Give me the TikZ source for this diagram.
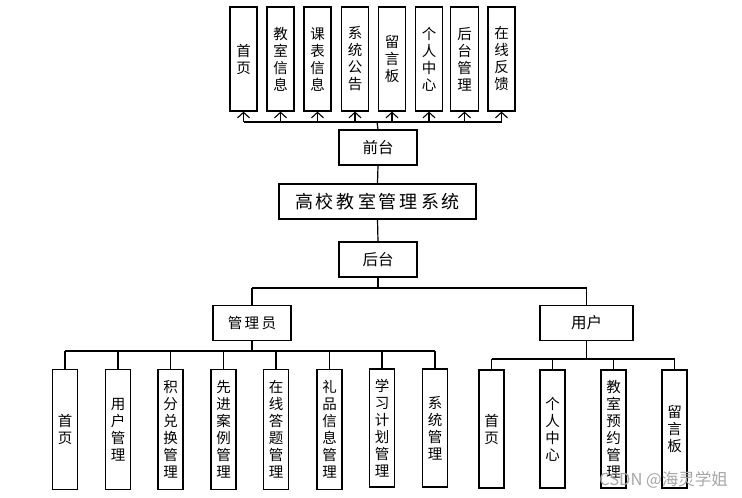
\documentclass[tikz,border=0pt]{standalone}
\usepackage{fontspec}
\setmainfont{Noto Sans CJK SC}
\usetikzlibrary{arrows.meta}
\tikzset{
  box/.style={draw=black, line width=1.2pt, fill=white, inner sep=0pt, align=center},
  vbox/.style={box, minimum width=25pt, font=\fontsize{14.5}{17}\selectfont},
  tbox/.style={vbox, minimum height=104pt},
  abox/.style={vbox, minimum height=120pt},
  ubox/.style={vbox, minimum height=118pt},
  hbox/.style={box, minimum height=35pt, font=\fontsize{15.5}{18}\selectfont},
  link/.style={line width=1.2pt, black},
  arr/.style={link, -{Straight Barb[length=5.5pt, width=12pt, line width=1.1pt]}},
}
\begin{document}
\begin{tikzpicture}[x=1pt, y=-1pt]
\useasboundingbox (0,0) rectangle (742,498);
% top row
\node[tbox, minimum width=27pt] (t1) at (243.5,59) {首\\页};
\node[tbox, minimum width=27pt] (t2) at (280.5,59) {教\\室\\信\\息};
\node[tbox, minimum width=27pt] (t3) at (317.5,59) {课\\表\\信\\息};
\node[tbox, minimum width=27pt] (t4) at (355,59) {系\\统\\公\\告};
\node[tbox, minimum width=27pt] (t5) at (392,59) {留\\言\\板};
\node[tbox, minimum width=27pt] (t6) at (429,59) {个\\人\\中\\心};
\node[tbox, minimum width=28pt] (t7) at (464.5,59) {后\\台\\管\\理};
\node[tbox, minimum width=27pt] (t8) at (501.5,59) {在\\线\\反\\馈};
% middle
\node[hbox, minimum width=78pt] (qt) at (378,147.5) {前台};
\node[box, minimum width=197pt, minimum height=35pt, font=\fontsize{18}{21}\selectfont] (sys) at (377.5,201.5) {高\,校\,教\,室\,管\,理\,系\,统};
\node[hbox, minimum width=78pt] (ht) at (378,259.5) {后台};
\node[hbox, minimum width=78pt, font=\fontsize{14.5}{17}\selectfont] (adm) at (252,323) {管\,理\,员};
\node[hbox, minimum width=93pt] (usr) at (586.5,323) {用户};
% admin children
\node[abox] (a1) at (65,429.5) {首\\页};
\node[abox] (a2) at (118,429.5) {用\\户\\管\\理};
\node[abox] (a3) at (170.5,429.5) {积\\分\\兑\\换\\管\\理};
\node[abox] (a4) at (223.5,429.5) {先\\进\\案\\例\\管\\理};
\node[abox] (a5) at (276,429.5) {在\\线\\答\\题\\管\\理};
\node[abox] (a6) at (329.5,429.5) {礼\\品\\信\\息\\管\\理};
\node[abox, minimum height=118pt] (a7) at (382,428) {学\\习\\计\\划\\管\\理};
\node[abox, minimum height=118pt] (a8) at (435,428) {系\\统\\管\\理};
% user children
\node[ubox] (u1) at (491.5,429) {首\\页};
\node[ubox] (u2) at (552.5,429) {个\\人\\中\\心};
\node[ubox] (u3) at (613.5,429) {教\\室\\预\\约\\管\\理};
\node[ubox] (u4) at (674.5,429) {留\\言\\板};
% bus coordinates
\coordinate (tb) at (377,122);
\coordinate (mb) at (378,288);
\coordinate (ab) at (252,351);
\coordinate (ub) at (586.5,359);
% top connectors
\draw[link] (qt.north) -- (tb);
\draw[link] (t1.south |- tb) -- (t8.south |- tb);
\foreach \n in {t1,t2,t3,t4,t5,t6,t7,t8} \draw[arr] (\n.south |- tb) -- (\n.south);
\draw[link] (qt.south) -- (sys.north);
\draw[link] (sys.south) -- (ht.north);
% middle bus
\draw[link] (ht.south) -- (mb);
\draw[link] (adm.north |- mb) -- (usr.north |- mb);
\draw[link] (adm.north |- mb) -- (adm.north);
\draw[link] (usr.north |- mb) -- (usr.north);
% admin bus
\draw[link] (adm.south) -- (ab);
\draw[link] (a1.north |- ab) -- (a8.north |- ab);
\foreach \n in {a1,a2,a3,a4,a5,a6,a7,a8} \draw[link] (\n.north |- ab) -- (\n.north);
% user bus
\draw[link] (usr.south) -- (ub);
\draw[link] (u1.north |- ub) -- (u4.north |- ub);
\foreach \n in {u1,u2,u3,u4} \draw[link] (\n.north |- ub) -- (\n.north);
% watermark
\node[text=black!35, font=\fontsize{16.5}{18}\selectfont, anchor=east, inner sep=0pt] (wm) at (728,480) {CSDN @海灵学姐};
\end{tikzpicture}
\end{document}
